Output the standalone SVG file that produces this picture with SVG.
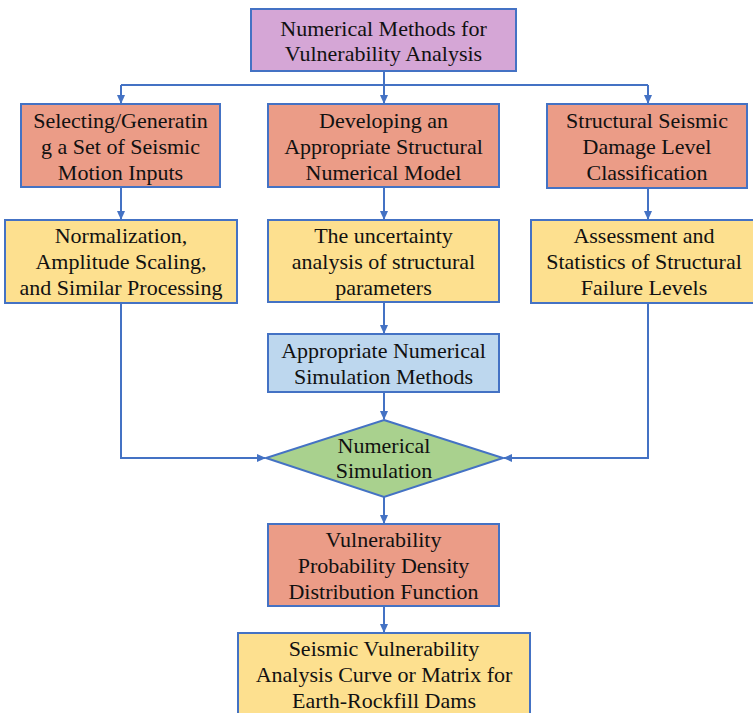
<svg xmlns="http://www.w3.org/2000/svg" width="753" height="713" viewBox="0 0 753 713">
<defs>
<marker id="arr" markerWidth="9" markerHeight="8" refX="8" refY="4" orient="auto" markerUnits="userSpaceOnUse">
<path d="M0,0 L9,4 L0,8 Z" fill="#4472C4"/>
</marker>
<style>
.b{stroke:#4472C4;stroke-width:2}
.p{fill:#D5A6D6}
.o{fill:#EB9C87}
.y{fill:#FDE08F}
.bl{fill:#BDD7EE}
.g{fill:#A9D18E}
text{font-family:"Liberation Serif","Times New Roman",serif;font-size:22px;fill:#111;text-anchor:middle}
.c{fill:none;stroke:#4472C4;stroke-width:2}
</style>
</defs>
<rect width="753" height="713" fill="#fff"/>
<g id="connectors">
<path class="c" d="M384,71 V85 M121,85 H648"/>
<path class="c" d="M121,85 V103" marker-end="url(#arr)"/>
<path class="c" d="M384,85 V103" marker-end="url(#arr)"/>
<path class="c" d="M648,85 V103" marker-end="url(#arr)"/>
<path class="c" d="M121,187 V219" marker-end="url(#arr)"/>
<path class="c" d="M384,187 V219" marker-end="url(#arr)"/>
<path class="c" d="M648,188 V219" marker-end="url(#arr)"/>
<path class="c" d="M384,302 V333" marker-end="url(#arr)"/>
<path class="c" d="M384,392 V419" marker-end="url(#arr)"/>
<path class="c" d="M121,303 V458 H265" marker-end="url(#arr)"/>
<path class="c" d="M648,303 V458 H504" marker-end="url(#arr)"/>
<path class="c" d="M384,497 V523" marker-end="url(#arr)"/>
<path class="c" d="M384,606 V632" marker-end="url(#arr)"/>
</g>
<g id="n_top"><rect class="b p" x="251" y="9" width="265" height="62"/>
<text x="383.5" y="36">Numerical Methods for</text><text x="383.5" y="61">Vulnerability Analysis</text></g>
<g id="n_o1"><rect class="b o" x="21" y="104" width="199" height="83"/>
<text x="120.5" y="128">Selecting/Generatin</text><text x="120.5" y="154">g a Set of Seismic</text><text x="120.5" y="180">Motion Inputs</text></g>
<g id="n_o2"><rect class="b o" x="268" y="104" width="231" height="83"/>
<text x="383.5" y="128">Developing an</text><text x="383.5" y="154">Appropriate Structural</text><text x="383.5" y="180">Numerical Model</text></g>
<g id="n_o3"><rect class="b o" x="547" y="104" width="200" height="84"/>
<text x="647" y="128">Structural Seismic</text><text x="647" y="154">Damage Level</text><text x="647" y="180">Classification</text></g>
<g id="n_y1"><rect class="b y" x="5" y="220" width="232" height="83"/>
<text x="121" y="243">Normalization,</text><text x="121" y="269">Amplitude Scaling,</text><text x="121" y="295">and Similar Processing</text></g>
<g id="n_y2"><rect class="b y" x="268" y="220" width="231" height="82"/>
<text x="383.5" y="243">The uncertainty</text><text x="383.5" y="269">analysis of structural</text><text x="383.5" y="295">parameters</text></g>
<g id="n_y3"><rect class="b y" x="531" y="220" width="226" height="83"/>
<text x="644" y="243">Assessment and</text><text x="644" y="269">Statistics of Structural</text><text x="644" y="295">Failure Levels</text></g>
<g id="n_blue"><rect class="b bl" x="268" y="334" width="231" height="58"/>
<text x="383.5" y="358">Appropriate Numerical</text><text x="383.5" y="384">Simulation Methods</text></g>
<g id="n_dia"><polygon class="b g" points="384,420 503,458 384,497 266,458"/>
<text x="384" y="453">Numerical</text><text x="384" y="478">Simulation</text></g>
<g id="n_o4"><rect class="b o" x="268" y="524" width="231" height="82"/>
<text x="383.5" y="547">Vulnerability</text><text x="383.5" y="573">Probability Density</text><text x="383.5" y="599">Distribution Function</text></g>
<g id="n_y4"><rect class="b y" x="238" y="633" width="292" height="90"/>
<text x="384" y="656">Seismic Vulnerability</text><text x="384" y="682">Analysis Curve or Matrix for</text><text x="384" y="708">Earth-Rockfill Dams</text></g>
</svg>
